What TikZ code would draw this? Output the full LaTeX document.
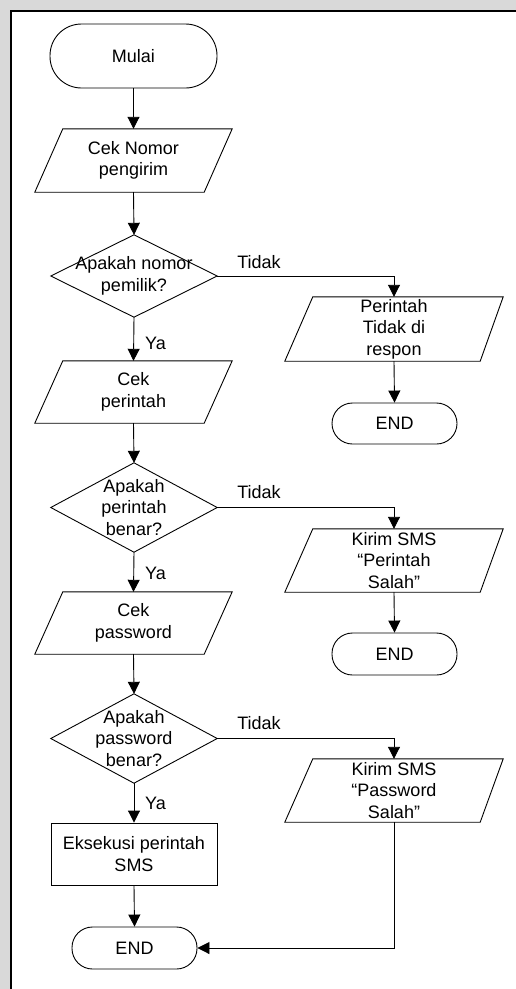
\documentclass[tikz,border=0pt]{standalone}
\usepackage{fontspec}
\setmainfont{Liberation Sans}
\usetikzlibrary{arrows.meta}
\definecolor{bggray}{HTML}{D9D9D9}
\newcommand\iooutline[3]{\draw[outline] ([xshift=#2]#1.north west) -- (#1.north east) -- ([xshift=-#3]#1.south east) -- (#1.south west) -- cycle;}
\newcommand\dmoutline[1]{\draw[outline] (#1.north) -- (#1.east) -- (#1.south) -- (#1.west) -- cycle;}
\begin{document}
\begin{tikzpicture}[x=1pt,y=-1pt,
  outline/.style={draw=black, line width=0.9pt, line join=miter},
  box/.style={rectangle, inner sep=0pt, align=center, text=black,
    font=\fontsize{18}{21.5}\selectfont},
  termbox/.style={box, outline, rounded corners=#1},
  leftio/.style={box, minimum width=197pt, minimum height=63pt},
  rightio/.style={box, minimum width=218pt, minimum height=63pt},
  decbox/.style={box, minimum width=166pt},
  procbox/.style={box, outline, minimum width=166pt, minimum height=62pt},
  lbl/.style={inner sep=0pt, font=\fontsize{18}{21.5}\selectfont},
  arr/.style={draw=black, line width=0.9pt, -{Triangle[width=12pt,length=12pt]}},
  conn/.style={draw=black, line width=0.9pt}
]
\useasboundingbox (0,0) rectangle (516,989);
\fill[bggray] (0,0) rectangle (516,989);
\fill[white] (11,11) rectangle (516,989);
\draw[line width=2pt] (11,989) -- (11,11) -- (516,11);

% left column
\node[termbox=31.5pt, minimum width=167pt, minimum height=64pt] (start) at (133.5,56) {Mulai};
\node[leftio] (io1) at (133.5,160.5) {Cek Nomor\\pengirim};
\iooutline{io1}{28pt}{28pt}
\node[decbox, minimum height=82pt] (d1) at (134,276) {Apakah nomor\\pemilik?};
\dmoutline{d1}
\node[leftio, minimum height=62pt] (io2) at (133.5,392) {Cek\\perintah};
\iooutline{io2}{28pt}{28pt}
\node[decbox, minimum height=89pt] (d2) at (134,507.5) {Apakah\\perintah\\benar?};
\dmoutline{d2}
\node[leftio, minimum height=62pt] (io3) at (133.5,623) {Cek\\password};
\iooutline{io3}{28pt}{28pt}
\node[decbox, minimum height=89pt] (d3) at (134,738.5) {Apakah\\password\\benar?};
\dmoutline{d3}
\node[procbox] (exec) at (134,854) {Eksekusi perintah\\SMS};
\node[termbox=20.5pt, minimum width=125pt, minimum height=42pt] (end3) at (134.5,948) {END};

% right column
\node[rightio, minimum height=64pt] (r1) at (394,329) {Perintah\\Tidak di\\respon};
\iooutline{r1}{28pt}{23pt}
\node[termbox=20.5pt, minimum width=125pt, minimum height=41pt] (end1) at (394.5,423.5) {END};
\node[rightio] (r2) at (394,560.5) {Kirim SMS\\“Perintah\\Salah”};
\iooutline{r2}{28pt}{23pt}
\node[termbox=20.5pt, minimum width=125pt, minimum height=42pt] (end2) at (394.5,654) {END};
\node[rightio] (r3) at (394,790.5) {Kirim SMS\\“Password\\Salah”};
\iooutline{r3}{28pt}{23pt}

% connectors
\draw[arr] (start.south) -- (io1.north);
\draw[arr] (io1.south) -- (d1.north);
\draw[arr] (d1.south) -- (io2.north);
\draw[arr] (io2.south) -- (d2.north);
\draw[arr] (d2.south) -- (io3.north);
\draw[arr] (io3.south) -- (d3.north);
\draw[arr] (d3.south) -- (exec.north);
\draw[arr] (exec.south) -- (end3.north);
\draw[arr] (d1.east) -| (r1.north);
\draw[arr] (r1.south) -- (end1.north);
\draw[arr] (d2.east) -| (r2.north);
\draw[arr] (r2.south) -- (end2.north);
\draw[arr] (d3.east) -| (r3.north);
\draw[arr] (r3.south) |- (end3.east);

% labels
\node[lbl] (t1) at (259,262) {Tidak};
\node[lbl] (t2) at (259,492) {Tidak};
\node[lbl] (t3) at (259,723) {Tidak};
\node[lbl] (y1) at (155.5,343) {Ya};
\node[lbl] (y2) at (155.5,573) {Ya};
\node[lbl] (y3) at (155.5,803) {Ya};
\end{tikzpicture}
\end{document}
